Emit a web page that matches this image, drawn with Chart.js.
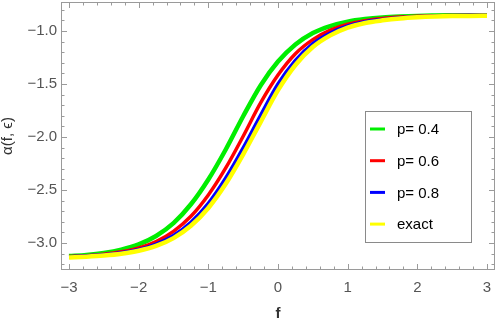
<!DOCTYPE html>
<html>
<head>
<meta charset="utf-8">
<script src="https://cdn.jsdelivr.net/npm/chart.js@4/dist/chart.umd.min.js"></script>
<style>
  body { margin: 0; background: #fff; }
  #wrap { width: 498px; height: 321px; }
</style>
</head>
<body>
<div id="wrap"><canvas id="alphaChart" width="498" height="321"></canvas></div>
<script>
var fValues = [-3, -2.75, -2.5, -2.25, -2, -1.75, -1.5, -1.25, -1, -0.75, -0.5, -0.25, 0,
               0.25, 0.5, 0.75, 1, 1.25, 1.5, 1.75, 2, 2.25, 2.5, 2.75, 3];
var p04 = [-3.124, -3.113, -3.094, -3.063, -3.014, -2.934, -2.813, -2.635, -2.401, -2.118, -1.805, -1.514, -1.289,
           -1.128, -1.019, -0.954, -0.912, -0.888, -0.873, -0.864, -0.858, -0.855, -0.853, -0.852, -0.851];
var p06 = [-3.128, -3.120, -3.106, -3.083, -3.046, -2.986, -2.890, -2.748, -2.547, -2.292, -1.993, -1.679, -1.416,
           -1.215, -1.082, -0.993, -0.937, -0.903, -0.882, -0.869, -0.861, -0.857, -0.854, -0.852, -0.851];
var p08 = [-3.130, -3.123, -3.112, -3.093, -3.061, -3.010, -2.929, -2.804, -2.626, -2.387, -2.103, -1.795, -1.500,
           -1.278, -1.120, -1.019, -0.953, -0.913, -0.891, -0.875, -0.865, -0.859, -0.855, -0.853, -0.852];
var exact = [-3.138, -3.130, -3.119, -3.102, -3.074, -3.028, -2.954, -2.838, -2.670, -2.442, -2.164, -1.860, -1.559,
             -1.321, -1.152, -1.042, -0.969, -0.925, -0.900, -0.882, -0.871, -0.864, -0.860, -0.858, -0.857];

var seriesLabels = ["p= 0.4", "p= 0.6", "p= 0.8", "exact"];
var seriesColors = ["#00ee00", "#ff0000", "#0000ff", "#ffff00"];

var xTicks = [];
for (var i = -15; i <= 15; i++) xTicks.push(i / 5);
var yTicks = [];
for (var j = -32; j <= -8; j++) yTicks.push(j / 10);

function isMajor(v, step) {
  var r = v / step;
  return Math.abs(r - Math.round(r)) < 1e-6;
}

function fmt(v, digits) {
  var s = Math.abs(v).toFixed(digits);
  return v < 0 ? "\u2212" + s : s;
}

function points(ys) {
  return fValues.map(function (f, k) { return { x: f, y: ys[k] }; });
}

var frameColor = "#9a9a9a";
var labelFont = "15px 'Liberation Sans', Arial, sans-serif";

var framePlugin = {
  id: "frame",
  afterDraw: function (chart) {
    var ctx = chart.ctx;
    var a = chart.chartArea;
    var xs = chart.scales.x;
    var ys = chart.scales.y;
    ctx.save();
    ctx.strokeStyle = frameColor;
    ctx.lineWidth = 1;
    ctx.strokeRect(a.left + 0.5, a.top + 0.5, a.right - a.left - 1, a.bottom - a.top - 1);
    ctx.beginPath();
    xTicks.forEach(function (v) {
      var px = Math.round(xs.getPixelForValue(v)) + 0.5;
      var len = isMajor(v, 1) ? 6 : 3.5;
      ctx.moveTo(px, a.bottom);
      ctx.lineTo(px, a.bottom - len);
      ctx.moveTo(px, a.top);
      ctx.lineTo(px, a.top + len);
    });
    yTicks.forEach(function (v) {
      var py = Math.round(ys.getPixelForValue(v)) + 0.5;
      var len = isMajor(v, 0.5) ? 6 : 3.5;
      ctx.moveTo(a.left, py);
      ctx.lineTo(a.left + len, py);
      ctx.moveTo(a.right, py);
      ctx.lineTo(a.right - len, py);
    });
    ctx.stroke();

    // legend box inside the plot
    var bx = 365, by = 111, bw = 106, bh = 131;
    ctx.fillStyle = "#fff";
    ctx.fillRect(bx, by, bw, bh);
    ctx.strokeStyle = "#8a8a8a";
    ctx.strokeRect(bx + 0.5, by + 0.5, bw, bh);
    ctx.font = labelFont;
    ctx.textBaseline = "middle";
    ctx.textAlign = "left";
    chart.data.datasets.forEach(function (ds, k) {
      var cy = 129 + k * 31.7;
      ctx.strokeStyle = ds.borderColor;
      ctx.lineWidth = 3;
      ctx.beginPath();
      ctx.moveTo(370, cy);
      ctx.lineTo(385, cy);
      ctx.stroke();
      ctx.fillStyle = "#000";
      ctx.fillText(ds.label, 397, cy + 1);
    });
    ctx.restore();
  }
};

document.addEventListener("DOMContentLoaded", function () {
  var widths = [4.5, 3.5, 3.5, 4.5];
  var allSeries = [p04, p06, p08, exact];
  var datasets = allSeries.map(function (ys, k) {
    return {
      label: seriesLabels[k],
      data: points(ys),
      borderColor: seriesColors[k],
      backgroundColor: seriesColors[k],
      borderWidth: widths[k],
      pointRadius: 0,
      fill: false,
      cubicInterpolationMode: "monotone",
      order: 4 - k
    };
  });

  var ctx = document.getElementById("alphaChart").getContext("2d");
  var alphaChart = new Chart(ctx, {
    type: "line",
    data: { datasets: datasets },
    options: {
      responsive: false,
      animation: false,
      layout: { padding: { top: 2, right: 3, left: 0, bottom: 0 } },
      plugins: {
        legend: { display: false },
        tooltip: { enabled: false }
      },
      scales: {
        x: {
          type: "linear",
          min: -3.115,
          max: 3.115,
          afterBuildTicks: function (scale) {
            scale.ticks = xTicks.map(function (v) { return { value: v }; });
          },
          afterFit: function (scale) {
            scale.height = 51;
            scale.paddingLeft = 0;
            scale.paddingRight = 0;
          },
          grid: { display: false, drawTicks: false },
          border: { display: false },
          ticks: {
            autoSkip: false,
            maxRotation: 0,
            padding: 9,
            color: "#555",
            font: { family: "'Liberation Sans', Arial, sans-serif", size: 15 },
            callback: function (v) { return isMajor(v, 1) ? fmt(v, 0) : ""; }
          },
          title: {
            display: true,
            text: "f",
            color: "#333",
            padding: 0,
            font: { family: "'Liberation Sans', Arial, sans-serif", size: 15, weight: "bold", lineHeight: 1 }
          }
        },
        y: {
          type: "linear",
          min: -3.255,
          max: -0.727,
          afterBuildTicks: function (scale) {
            scale.ticks = yTicks.map(function (v) { return { value: v }; });
          },
          afterFit: function (scale) {
            scale.width = 61;
            scale.paddingTop = 0;
            scale.paddingBottom = 0;
          },
          grid: { display: false, drawTicks: false },
          border: { display: false },
          ticks: {
            autoSkip: false,
            padding: 4,
            color: "#555",
            font: { family: "'Liberation Sans', Arial, sans-serif", size: 15 },
            callback: function (v) { return isMajor(v, 0.5) ? fmt(v, 1) : ""; }
          },
          title: {
            display: true,
            text: "\u03b1(f, \u03f5)",
            color: "#333",
            padding: 0,
            font: { family: "'Liberation Sans', Arial, sans-serif", size: 15, lineHeight: 1 }
          }
        }
      }
    },
    plugins: [framePlugin]
  });
});
</script>
</body>
</html>
